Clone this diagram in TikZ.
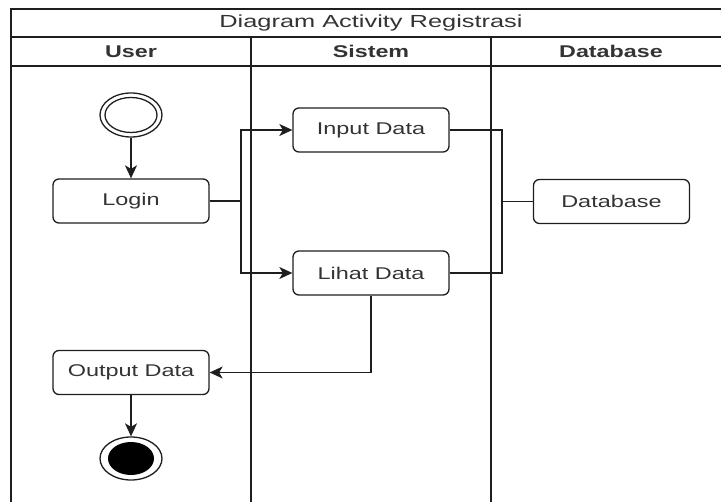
\documentclass[tikz,border=0pt]{standalone}
\usepackage{fontspec}
\setmainfont{Liberation Sans}
\usepackage{graphicx}
\usetikzlibrary{arrows.meta,shapes.geometric}
\definecolor{ink}{HTML}{1E1E1E}
\definecolor{txt}{HTML}{333333}
% horizontally widened text
\newcommand{\widetxt}[2]{\scalebox{#1}[1]{#2}}

\begin{document}
\begin{tikzpicture}[x=1pt,y=-1pt,
  lane/.style={draw=ink,line width=1.6pt},
  ttl/.style={text=txt,font=\fontsize{17.5}{20}\selectfont,inner sep=0pt},
  head/.style={text=txt,font=\bfseries\fontsize{17}{20}\selectfont,inner sep=0pt},
  actbox/.style={draw=ink,line width=1.3pt,rounded corners=6pt,
    minimum width=156pt,minimum height=44pt,inner sep=0pt,
    text=txt,font=\fontsize{17}{20}\selectfont},
  ring/.style={ellipse,draw=ink,line width=1.3pt,inner sep=0pt},
  link/.style={draw=ink,line width=1.3pt},
  flow/.style={link,-{Stealth[length=13pt,width=12pt,inset=3.5pt]}}
]
\useasboundingbox (0,0) rectangle (721,502);
\clip (0,0) rectangle (721,502);

% swimlane frame
\draw[lane] (11,512) -- (11,9) -- (735,9);
\draw[lane] (11,37) -- (735,37);
\draw[lane] (11,66) -- (735,66);
\draw[lane] (251,37) -- (251,512);
\draw[lane] (491,37) -- (491,512);
\draw[lane] (731,9) -- (731,512);

% title and lane headers
\node[ttl] (title) at (371,23) {\widetxt{1.45}{Diagram Activity Registrasi}};
\node[head] (hUser) at (131,51.5) {\widetxt{1.37}{User}};
\node[head] (hSistem) at (371,51.5) {\widetxt{1.37}{Sistem}};
\node[head] (hDatabase) at (611,51.5) {\widetxt{1.37}{Database}};

% start and end markers
\node[ring,minimum width=62pt,minimum height=44pt] (start) at (131,115) {};
\node[ring,minimum width=52pt,minimum height=35pt] (startin) at (131,115) {};
\node[ring,minimum width=62pt,minimum height=43pt] (end) at (131,458.5) {};
\node[ellipse,fill=black,inner sep=0pt,minimum width=46pt,minimum height=33pt] (endin) at (131,458.5) {};

% activities
\node[actbox] (login) at (131,201) {\widetxt{1.38}{Login}};
\node[actbox] (input) at (371,130) {\widetxt{1.38}{Input Data}};
\node[actbox] (lihat) at (371,273) {\widetxt{1.38}{Lihat Data}};
\node[actbox] (database) at (611.5,201.5) {\widetxt{1.38}{Database}};
\node[actbox] (output) at (131,372.5) {\widetxt{1.38}{Output Data}};

% fork and join points
\coordinate (fork) at (241,201);
\coordinate (join) at (502,201.5);

% connectors
\draw[flow] (start) -- (login);
\draw[link] (login.east) -- (fork);
\draw[flow] (fork) |- (input.west);
\draw[flow] (fork) |- (lihat.west);
\draw[link] (input.east) -| (join);
\draw[link] (lihat.east) -| (join);
\draw[link] (join) -- (database.west);
\draw[flow] (lihat.south) |- (output.east);
\draw[flow] (output) -- (end);
\end{tikzpicture}
\end{document}
